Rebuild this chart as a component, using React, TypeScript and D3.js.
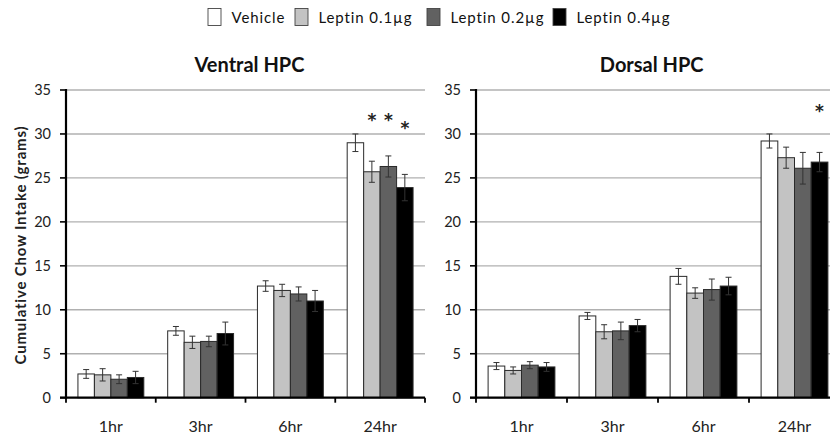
import React from "react";
import * as d3 from "d3";

const timepoints = ["1hr", "3hr", "6hr", "24hr"];
const groups = ["Vehicle", "Leptin 0.1µg", "Leptin 0.2µg", "Leptin 0.4µg"];
const groupColors = ["#ffffff", "#c3c3c3", "#616161", "#000000"];
const yTicks = [0, 5, 10, 15, 20, 25, 30, 35];

// Ventral HPC: mean per group per timepoint
const ventralVehicle = [2.7, 7.6, 12.7, 29.0];
const ventralL01 = [2.6, 6.3, 12.2, 25.7];
const ventralL02 = [2.1, 6.4, 11.8, 26.3];
const ventralL04 = [2.3, 7.3, 11.0, 23.9];
const ventralErrVehicle = [0.5, 0.5, 0.6, 1.0];
const ventralErrL01 = [0.7, 0.7, 0.7, 1.2];
const ventralErrL02 = [0.5, 0.6, 0.8, 1.2];
const ventralErrL04 = [0.7, 1.3, 1.2, 1.5];
// significance markers: [timepoint index, group index]
const ventralStars = [[3, 1], [3, 2], [3, 3]];
const ventralStarLevels = [32.0, 32.0, 31.1];

// Dorsal HPC
const dorsalVehicle = [3.6, 9.3, 13.8, 29.2];
const dorsalL01 = [3.1, 7.5, 11.9, 27.3];
const dorsalL02 = [3.7, 7.6, 12.3, 26.1];
const dorsalL04 = [3.5, 8.2, 12.7, 26.8];
const dorsalErrVehicle = [0.4, 0.4, 0.9, 0.8];
const dorsalErrL01 = [0.4, 0.8, 0.6, 1.2];
const dorsalErrL02 = [0.4, 1.0, 1.2, 1.8];
const dorsalErrL04 = [0.5, 0.7, 1.0, 1.1];
const dorsalStars = [[3, 3]];
const dorsalStarLevels = [33.1];

const FONT = "Lato, 'Open Sans', sans-serif";

type PanelProps = {
  title: string;
  titleX: number;
  x0: number;
  x1: number;
  means: number[][];
  errs: number[][];
  stars: number[][];
  starY: number[];
};

function Panel({ title, titleX, x0, x1, means, errs, stars, starY }: PanelProps) {
  const yTop = 90;
  const yBot = 397.7;
  const y = d3.scaleLinear().domain([0, 35]).range([yBot, yTop]);
  const xCat = d3.scaleBand().domain(timepoints).range([x0, x1]).paddingInner(0).paddingOuter(0);
  const inner = 0.133;
  const xGrp = d3
    .scaleBand()
    .domain(groups)
    .range([xCat.bandwidth() * inner, xCat.bandwidth() * (1 - inner)]);
  const bw = xGrp.bandwidth();
  const capHalf = 3;
  return (
    <g>
      <text x={titleX} y={72} textAnchor="middle" fontFamily={FONT} fontWeight="bold" fontSize={20} fill="#111">
        {title}
      </text>
      {yTicks.map((t) =>
        t === 0 ? null : (
          <line key={"g" + t} x1={x0} x2={x1} y1={y(t)} y2={y(t)} stroke="#b0b0b0" strokeWidth={1.4} />
        )
      )}
      {timepoints.map((tp, i) =>
        groups.map((g, j) => {
          const v = means[j][i];
          const e = errs[j][i];
          const bx = (xCat(tp) as number) + (xGrp(g) as number);
          const cx = bx + bw / 2;
          return (
            <g key={tp + g}>
              <rect x={bx} y={y(v)} width={bw} height={yBot - y(v)} fill={groupColors[j]} stroke="#2a2a2a" strokeWidth={1} />
              <line x1={cx} x2={cx} y1={y(v + e)} y2={y(v - e)} stroke="#333" strokeWidth={1} />
              <line x1={cx - capHalf} x2={cx + capHalf} y1={y(v + e)} y2={y(v + e)} stroke="#333" strokeWidth={1} />
              <line x1={cx - capHalf} x2={cx + capHalf} y1={y(v - e)} y2={y(v - e)} stroke="#333" strokeWidth={1} />
            </g>
          );
        })
      )}
      {stars.map(([ti, gi], k) => {
        const cx = (xCat(timepoints[ti]) as number) + (xGrp(groups[gi]) as number) + bw / 2;
        return (
          <text
            key={"s" + k}
            x={cx}
            y={y(starY[k]) + 10}
            textAnchor="middle"
            fontFamily="'DejaVu Sans', sans-serif"
            fontWeight="bold"
            fontSize={17}
            fill="#222"
          >
            *
          </text>
        );
      })}
      {/* y axis */}
      <line x1={x0} x2={x0} y1={yTop - 1} y2={yBot + 1} stroke="#000" strokeWidth={2.2} />
      {yTicks.map((t) => (
        <g key={"yt" + t}>
          <line x1={x0 - 6} x2={x0} y1={y(t)} y2={y(t)} stroke="#000" strokeWidth={1.6} />
          <text x={x0 - 15} y={y(t) + 5} textAnchor="end" fontFamily={FONT} fontSize={14.5} fill="#222">
            {t}
          </text>
        </g>
      ))}
      {/* x axis */}
      <line x1={x0 - 6} x2={x1} y1={yBot} y2={yBot} stroke="#000" strokeWidth={2.2} />
      {[0, 1, 2, 3, 4].map((k) => {
        const xx = x0 + k * xCat.step();
        return <line key={"xt" + k} x1={xx} x2={xx} y1={yBot} y2={yBot + 5} stroke="#000" strokeWidth={1.8} />;
      })}
      {timepoints.map((tp) => (
        <text
          key={"xl" + tp}
          x={(xCat(tp) as number) + xCat.bandwidth() / 2}
          y={432}
          textAnchor="middle"
          fontFamily={FONT}
          fontSize={16}
          fill="#222"
        >
          {tp}
        </text>
      ))}
    </g>
  );
}

export default function App() {
  const legendX = [208, 295, 427, 553];
  return (
    <svg width={830} height={435} style={{ position: "absolute", left: 0, top: 0, background: "#fff" }}>
      <rect x={0} y={0} width={830} height={435} fill="#fff" />
      {groups.map((g, j) => (
        <g key={g}>
          <rect x={legendX[j]} y={8.5} width={13} height={17} fill={groupColors[j]} stroke="#444" strokeWidth={0.9} />
          <text x={legendX[j] + 23.5} y={23} fontFamily={FONT} fontSize={15} letterSpacing={0.9} fill="#111">
            {g}
          </text>
        </g>
      ))}
      <text
        transform="translate(26,245) rotate(-90)"
        textAnchor="middle"
        fontFamily={FONT}
        fontWeight="bold"
        fontSize={15}
        letterSpacing={0.8}
        fill="#222"
      >
        Cumulative Chow Intake (grams)
      </text>
      <Panel
        title="Ventral HPC"
        titleX={249.5}
        x0={66}
        x1={425}
        means={[ventralVehicle, ventralL01, ventralL02, ventralL04]}
        errs={[ventralErrVehicle, ventralErrL01, ventralErrL02, ventralErrL04]}
        stars={ventralStars}
        starY={ventralStarLevels}
      />
      <Panel
        title="Dorsal HPC"
        titleX={651.7}
        x0={476}
        x1={840}
        means={[dorsalVehicle, dorsalL01, dorsalL02, dorsalL04]}
        errs={[dorsalErrVehicle, dorsalErrL01, dorsalErrL02, dorsalErrL04]}
        stars={dorsalStars}
        starY={dorsalStarLevels}
      />
    </svg>
  );
}
